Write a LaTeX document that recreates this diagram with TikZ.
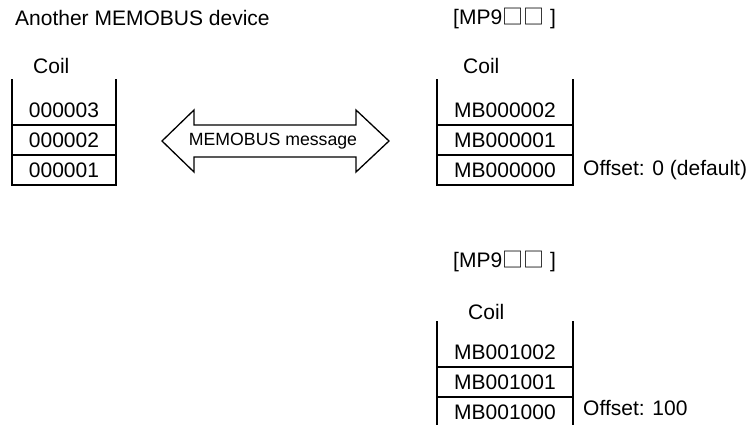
\documentclass[tikz,border=0pt]{standalone}
\usepackage{fontspec}
\setmainfont{Liberation Sans}
\newfontfamily\cjk{Noto Sans CJK JP}
\begin{document}
\begin{tikzpicture}[x=1pt,y=-1pt,
  txt/.style={font=\fontsize{21}{25}\selectfont, inner sep=0pt},
  small/.style={font=\fontsize{17.7}{21}\selectfont, inner sep=0pt},
  ln/.style={line width=1.4pt, line cap=rect}]
\useasboundingbox (0,0) rectangle (750,424);
\clip (0,0) rectangle (750,424);
% left device
\node[txt, anchor=west] (title) at (15,18) {Another MEMOBUS device};
\node[txt, anchor=west] (coilL) at (33,66) {Coil};
\draw[ln] (12,80) -- (12,185) -- (116,185) -- (116,80);
\draw[ln] (12,125) -- (116,125) (12,155) -- (116,155);
\node[txt] (l3) at (64,110) {000003};
\node[txt] (l2) at (64,140) {000002};
\node[txt] (l1) at (64,170) {000001};
% arrow
\draw[line width=1.3pt, line join=miter] (162,141) -- (194,110) -- (194,125) -- (356,125) -- (356,110) -- (389,141) -- (356,172) -- (356,157) -- (194,157) -- (194,172) -- cycle;
\node[small] (msg) at (273,141) {MEMOBUS message};
% top right
\node[txt, anchor=west] (mp1) at (453,18) {[MP9{\cjk □□}\;]};
\node[txt, anchor=west] (coilR) at (463,66) {Coil};
\draw[ln] (437,80) -- (437,185) -- (573,185) -- (573,80);
\draw[ln] (437,125) -- (573,125) (437,155) -- (573,155);
\node[txt] (r2) at (505,110) {MB000002};
\node[txt] (r1) at (505,140) {MB000001};
\node[txt] (r0) at (505,170) {MB000000};
\node[txt, anchor=west] (off0) at (583,170) {Offset: 0 (default)};
% bottom right
\node[txt, anchor=west] (mp2) at (453,261) {[MP9{\cjk □□}\;]};
\node[txt, anchor=west] (coilB) at (468,312) {Coil};
\draw[ln] (437,322) -- (437,427) -- (573,427) -- (573,322);
\draw[ln] (437,367) -- (573,367) (437,397) -- (573,397);
\node[txt] (b2) at (505,352) {MB001002};
\node[txt] (b1) at (505,382) {MB001001};
\node[txt] (b0) at (505,412) {MB001000};
\node[txt, anchor=west] (off100) at (583,408) {Offset: 100};
\end{tikzpicture}
\end{document}
